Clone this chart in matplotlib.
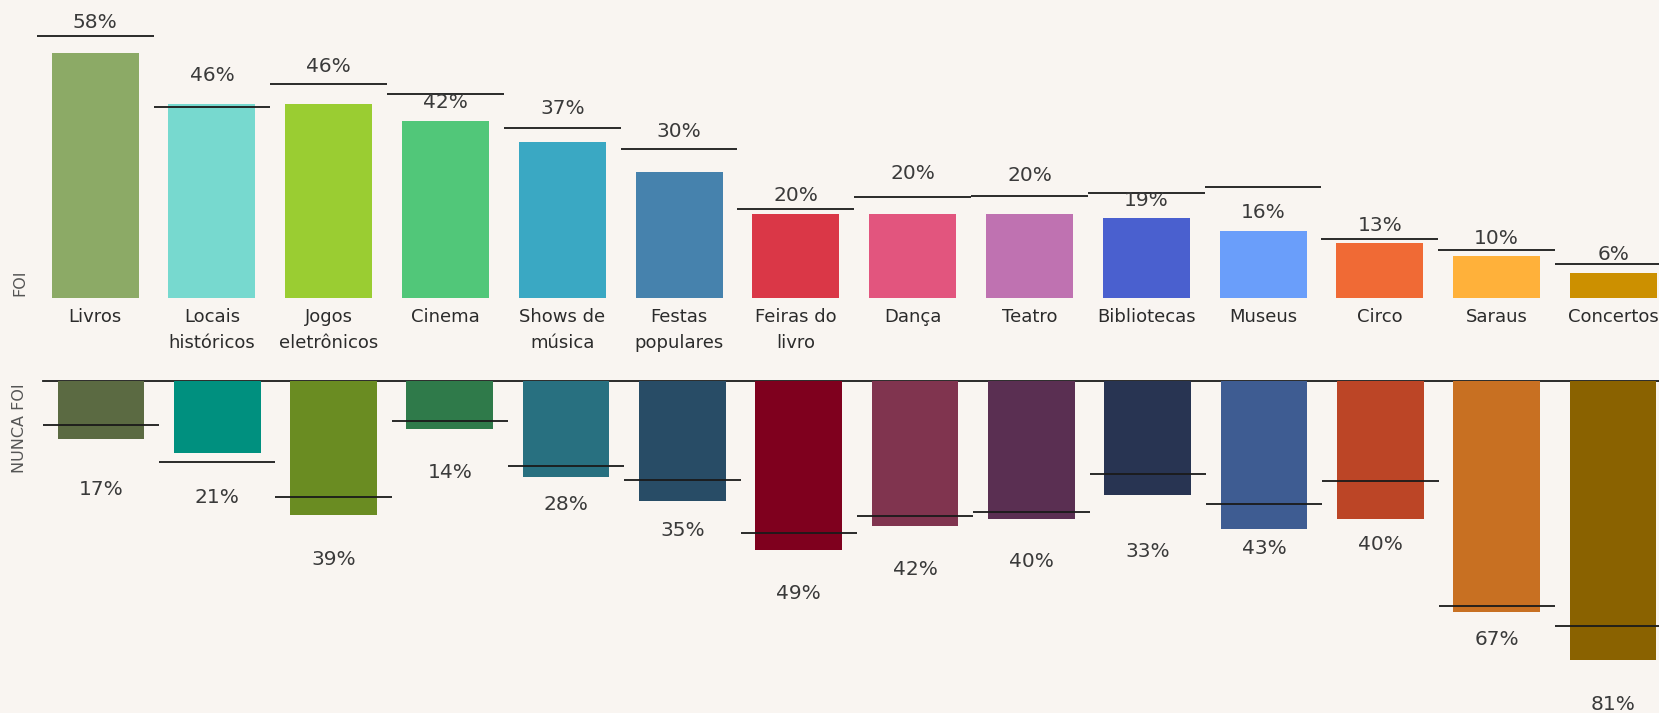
import numpy as np
import matplotlib.pyplot as plt

# Données
categories = ['Livros', 'Locais\nhistóricos', 'Jogos\neletrônicos', 'Cinema',
              'Shows de\nmúsica', 'Festas\npopulares', 'Feiras do\nlivro',
              'Dança', 'Teatro', 'Bibliotecas', 'Museus', 'Circo', 'Saraus',
              'Concertos']
foi = [58, 46, 46, 42, 37, 30, 20, 20, 20, 19, 16, 13, 10, 6]
foi_ref = [62.1, 45.2, 50.7, 48.3, 40.4, 35.4, 21.1, 23.9, 24.2, 25.0, 26.4,
           14.1, 11.4, 8.2]
nunca_foi = [17, 21, 39, 14, 28, 35, 49, 42, 40, 33, 43, 40, 67, 81]
nunca_foi_ref = [12.9, 23.6, 33.8, 11.6, 24.8, 28.7, 44.1, 39.3, 38.2, 27.0,
                 35.6, 29.1, 65.4, 71.0]

cores_foi = ['#8caa66', '#77d9cf', '#9acd32', '#51c779', '#3aa8c3', '#4682ad',
             '#da3747', '#e2557e', '#bf72b1', '#4a60cf', '#6a9efa', '#f06a35',
             '#ffb13a', '#cc9000']
cores_nunca = ['#5b6a42', '#00907f', '#6a8c22', '#2f7a4a', '#287080', '#284c66',
               '#7f001e', '#80344f', '#5a2f52', '#283452', '#3e5c92', '#bc4526',
               '#c87022', '#8a6200']

# Décalages des étiquettes (pixels), placement à la Tableau
decal_haut = [31, 28, 37, 18, 34, 40, 18, 40, 38, 18, 18, 18, 18, 18]
decal_bas = [50, 44, 44, 43, 27, 29, 44, 44, 43, 57, 19, 26, 28, 44]

fond = '#f9f5f1'
trait = '#1a1a1a'
W, H = 1659, 713
fig = plt.figure(figsize=(W / 100, H / 100), dpi=100, facecolor=fond)

x = np.arange(len(categories))

# Partie haute : FOI
ax1 = fig.add_axes([36.7 / W, (H - 298.3) / H, 14 * 116.8 / W, 70 * 4.224 / H])
ax1.bar(x, foi, width=0.745, color=cores_foi, zorder=2)
ax1.hlines(foi_ref, x - 0.5, x + 0.5, color=trait, lw=1.3, zorder=3)
for i in range(len(x)):
    ax1.annotate(f'{foi[i]}%', xy=(i, foi[i]), xytext=(0, decal_haut[i]),
                 textcoords='offset pixels', ha='center', va='center',
                 fontsize=14.5, color='#3a3a3a', annotation_clip=False)
    lignes = categories[i].split('\n')
    for k, txt in enumerate(lignes):
        ax1.annotate(txt, xy=(i, 0), xytext=(0, -18.7 - 26 * k),
                     textcoords='offset pixels', ha='center', va='center',
                     fontsize=13, color='#2b2b2b', annotation_clip=False)
ax1.set_xlim(-0.5, 13.5)
ax1.set_ylim(0, 70)
ax1.axis('off')

# Partie basse : NUNCA FOI
ax2 = fig.add_axes([42.7 / W, (H - 380.7 - 96 * 3.45) / H, 14 * 116.32 / W, 96 * 3.45 / H])
ax2.axhline(0, color=trait, lw=1.3, zorder=1, clip_on=False)
ax2.bar(x, [-v for v in nunca_foi], width=0.745, color=cores_nunca, zorder=2)
ax2.hlines([-v for v in nunca_foi_ref], x - 0.5, x + 0.5, color=trait,
           lw=1.3, zorder=3)
for i in range(len(x)):
    ax2.annotate(f'{nunca_foi[i]}%', xy=(i, -nunca_foi[i]), xytext=(0, -decal_bas[i]),
                 textcoords='offset pixels', ha='center', va='center',
                 fontsize=14.5, color='#3a3a3a', annotation_clip=False)
ax2.set_xlim(-0.5, 13.5)
ax2.set_ylim(-96, 0)
ax2.axis('off')

fig.text(19.5 / W, 1 - 283 / H, 'FOI', rotation=90, ha='center', va='center',
         fontsize=11.5, color='#555555')
fig.text(19.5 / W, 1 - 428 / H, 'NUNCA FOI', rotation=90, ha='center',
         va='center', fontsize=11.5, color='#555555')

plt.savefig('out.png', dpi=100, facecolor=fond)
